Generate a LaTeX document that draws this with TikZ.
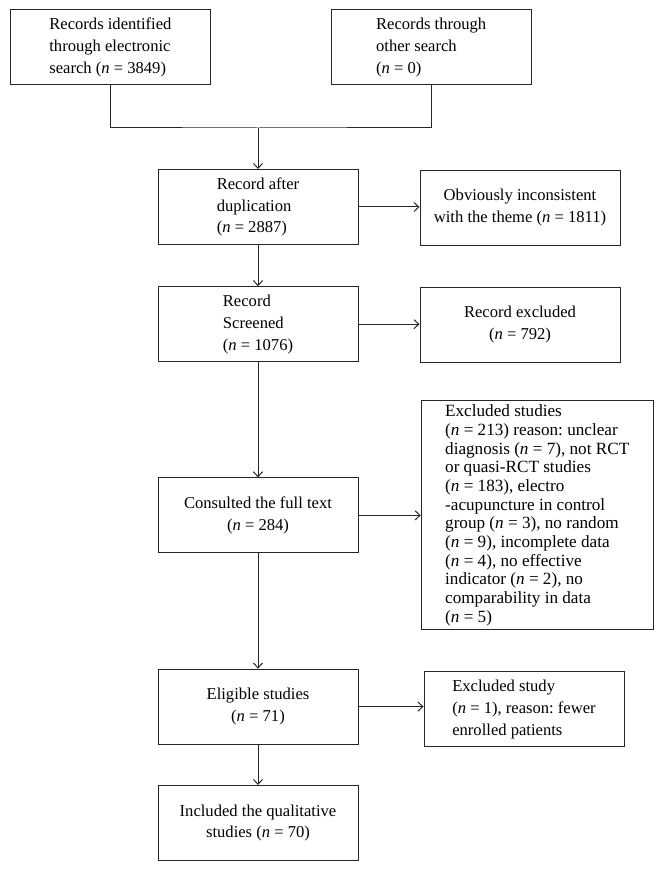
\documentclass[tikz,border=0pt]{standalone}
\usepackage{fontspec}
\setmainfont{Liberation Serif}
\usetikzlibrary{arrows.meta}
\newcommand{\nn}{\textit{n}}
\frenchspacing
\begin{document}
\begin{tikzpicture}[
	box/.style={draw=black!85, line width=0.7pt, minimum width=5cm, minimum height=1.875cm, inner sep=2pt, font=\fontsize{11.8}{15.6}\selectfont},
	flow/.style={draw=black!85, line width=0.7pt, -{Straight Barb[length=3.5pt,width=6.5pt]}}]
			\useasboundingbox (0,0) rectangle (16.6,21.775);
			% sources
			\node[box, align=left] (elec) at (2.76,20.59) {Records identified\\through electronic\\search (\nn{} = 3849)};
			\node[box, align=left] (other) at (10.78,20.59) {Records through\\other search\\(\nn{} = 0)};
			\coordinate (merge) at (6.45,18.575);
		
			% main column
			\node[box, align=left] (dup) at (6.45,16.6) {Record after\\duplication\\(\nn{} = 2887)};
			\node[box, align=left] (screen) at (6.45,13.67) {Record\\Screened\\(\nn{} = 1076)};
			\node[box, align=center] (full) at (6.45,8.89) {Consulted the full text\\(\nn{} = 284)};
			\node[box, align=center] (elig) at (6.45,4.11) {Eligible studies\\(\nn{} = 71)};
			\node[box, align=center] (incl) at (6.45,1.2) {Included the qualitative\\studies (\nn{} = 70)};
		
			% exclusions
			\node[box, align=center] (theme) at (13.0,16.58) {Obviously inconsistent\\with the theme (\nn{} = 1811)};
			\node[box, align=center] (excl) at (13.0,13.66) {Record excluded\\(\nn{} = 792)};
			\node[box, align=left, minimum width=5.8cm, minimum height=5.725cm, font=\fontsize{12.2}{13.3}\selectfont] (reasons) at (13.43,8.89) {Excluded studies\\(\nn{} = 213) reason: unclear\\diagnosis (\nn{} = 7), not RCT\\or quasi-RCT studies\\(\nn{} = 183), electro\\-acupuncture in control\\group (\nn{} = 3), no random\\(\nn{} = 9), incomplete data\\(\nn{} = 4), no effective\\indicator (\nn{} = 2), no\\comparability in data\\(\nn{} = 5)};
			\node[box, align=left] (fewer) at (13.1,4.04) {Excluded study\\(\nn{} = 1), reason: fewer\\enrolled patients};
		
			\draw[line width=0.7pt, draw=black!85] (elec.south) |- (merge) -| (other.south);
			\draw[flow] (merge) -- (dup.north);
			\draw[flow] (dup.east) -- (dup.east -| theme.west);
			\draw[flow] (dup) -- (screen);
			\draw[flow] (screen.east) -- (screen.east -| excl.west);
			\draw[flow] (screen) -- (full);
			\draw[flow] (full.east) -- (full.east -| reasons.west);
			\draw[flow] (full) -- (elig);
			\draw[flow] (elig.east) -- (elig.east -| fewer.west);
			\draw[flow] (elig) -- (incl);
		\end{tikzpicture}
\end{document}
